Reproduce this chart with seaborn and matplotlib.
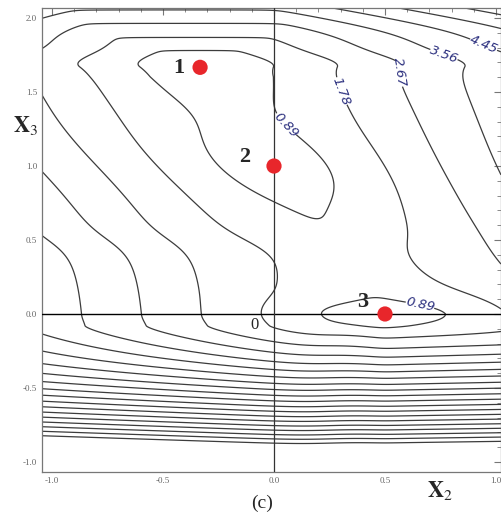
import numpy as np
import matplotlib
matplotlib.use("Agg")
import matplotlib.pyplot as plt
import seaborn as sns

sns.set_style("white")
plt.rcParams['font.family'] = ['Liberation Serif', 'DejaVu Serif']
plt.rcParams['mathtext.fontset'] = 'stix'
plt.rcParams['axes.unicode_minus'] = False

# equilibrium points
point_id = ["1", "2", "3"]
point_x2 = [-0.333, 0.0, 0.5]
point_x3 = [1.667, 1.0, 0.0]
point_tag_x2 = [-0.43, -0.13, 0.40]
point_tag_x3 = [1.66, 1.06, 0.08]

# contour levels (equal steps of 0.89)
level_step = 0.89
n_levels = 20

# labelled contours and where the labels sit
label_levels = [0.89, 1.78, 2.67, 3.56, 4.45, 0.89]
label_x2 = [0.08, 0.31, 0.545, 0.76, 0.95, 0.67]
label_x3 = [1.32, 1.51, 1.635, 1.73, 1.84, 0.15]

# energy landscape
# left edge of the valley: x2 = 0.50 minus three smooth steps in x3
left_x0 = 0.50
left_step_h = [0.14, 0.70, 0.60]
left_step_at = [0.50, 1.00, 1.82]
left_step_w = [0.06, 0.28, 0.07]
# right edge of the valley: the line 2*x2 + x3 = 1, opening up near the top
right_step_h = 0.55
right_step_at = 1.80
right_step_w = 0.06
slope_left = 3.3
slope_right = [3.2, 0.65, -0.9]
# wells along the valley floor
hump_level = 1.0
well_x3 = [0.0, 1.0, 1.67]
well_depth = [1.0, 0.95, 1.0]
well_up = [0.10, 0.35, 0.12]
well_down = [0.09, 0.35, 0.30]
valley_width = 0.38
# walls
floor_step = [0.42, 0.83, 0.13, 0.09]
top_step = [1.2, 0.12]
top_wall = [10.0, 1.82, 0.05]
bottom_wall = [23.5, 0.08, 1.5]


def sig(z):
    return 1.0 / (1.0 + np.exp(-z))


def ramp(z, e=0.04):
    return 0.5 * (z + np.sqrt(z ** 2 + e ** 2))


x2 = np.linspace(-1.045, 1.0225, 520)
x3 = np.linspace(-1.068, 2.068, 780)
X2, X3 = np.meshgrid(x2, x3)
below = np.minimum(X3, 0)

xl = left_x0 + 0 * X3
for h, a, w in zip(left_step_h, left_step_at, left_step_w):
    xl = xl - h * sig((X3 - a) / w)
xr = 0.5 - 0.5 * np.clip(X3, 0, None) + right_step_h * sig((X3 - right_step_at) / right_step_w)

k_l = slope_left * (0.45 + 0.55 * np.exp(-(below / 0.4) ** 2))
k_r = (slope_right[0] + slope_right[1] * sig((X3 - 0.15) / 0.06)
       + slope_right[2] * sig((X3 - 1.2) / 0.3))
k_r = k_r * (0.2 + 0.8 * np.exp(-(below / 0.09) ** 2))
F = k_l * ramp(xl - X2) + k_r * ramp(X2 - xr)

# hump with wells, felt only near the valley floor
Q = hump_level + 0 * X3
for y0, A, su, sd in zip(well_x3, well_depth, well_up, well_down):
    s = np.where(X3 >= y0, su, sd)
    Q = Q - A * np.exp(-((X3 - y0) / s) ** 2)
inside = (X3 > 0) & (X3 < well_x3[-1])
Q = np.where(inside, np.clip(Q, 0, None), 0)
mid = 0.5 * (xl + xr)
Q = Q * np.exp(-((X2 - mid) / valley_width) ** 2)

# step just below x3 = 0 (stronger and sharper on the right) and above the top well
right_part = sig((X2 - 0.25) / 0.08)
floor_amp = floor_step[0] + floor_step[1] * right_part
floor_w = floor_step[2] + (floor_step[3] - floor_step[2]) * right_part
P = np.where(X3 < 0, floor_amp * (1 - np.exp(-(X3 / floor_w) ** 2)), 0)
P = P + np.where(X3 > well_x3[-1],
                 top_step[0] * (1 - np.exp(-((X3 - well_x3[-1]) / top_step[1]) ** 2)), 0)

a, y0, w = top_wall
Wt = a * w * np.log1p(np.exp((X3 - y0) / w))
a, y0, p = bottom_wall
Wb = a * np.clip(-X3 - y0, 0, None) ** p

V = F + Q + P + Wt + Wb
levels = np.round(level_step * np.arange(1, n_levels + 1), 2)
labelled = sorted(set(label_levels))
plain = [lv for lv in levels if lv not in labelled]

fig = plt.figure(figsize=(5.02, 5.17), dpi=100)
ax = fig.add_axes([42 / 502, 45 / 517, 459 / 502, 464 / 517])

line_kw = dict(colors='#3c3c3c', linewidths=0.9)
ax.contour(X2, X3, V, levels=plain, **line_kw)
for lev in labelled:
    cs = ax.contour(X2, X3, V, levels=[lev], **line_kw)
    spots = [(lx, ly) for lv, lx, ly in zip(label_levels, label_x2, label_x3) if lv == lev]
    txts = ax.clabel(cs, manual=spots, inline=True, fmt='%.2f', fontsize=9.5,
                     colors='#2b2f7e', inline_spacing=3)
    for t in txts:
        t.set_fontstyle('italic')
        t.set_family('DejaVu Sans')

ax.axhline(0, color='black', lw=1.0, zorder=3)
ax.axvline(0, color='#333333', lw=0.9, zorder=3)

sns.scatterplot(x=point_x2, y=point_x3, ax=ax, color='#e8262b', s=120,
                edgecolor='none', zorder=5, legend=False)
for name, tx, ty in zip(point_id, point_tag_x2, point_tag_x3):
    ax.text(tx, ty, name, fontsize=16, fontweight='bold', ha='center', va='center', zorder=6)
ax.text(-0.086, -0.074, "0", fontsize=12, ha='center', va='center')

ax.set_xlim(-1.045, 1.0225)
ax.set_ylim(-1.068, 2.068)
ax.set_xticks(np.arange(-1.0, 1.01, 0.5))
ax.set_yticks(np.arange(-1.0, 2.01, 0.5))
ax.set_xticks(np.arange(-1.0, 1.01, 0.1), minor=True)
ax.set_yticks(np.arange(-1.0, 2.01, 0.1), minor=True)
ax.set_xticklabels([f"{v:.1f}" for v in np.arange(-1.0, 1.01, 0.5)])
ax.set_yticklabels([f"{v:.1f}" for v in np.arange(-1.0, 2.01, 0.5)])
ax.tick_params(which='both', direction='in', top=True, right=True, colors='#777777',
               labelsize=6.5, labelcolor='#666666')
ax.tick_params(which='major', length=5, width=0.8)
ax.tick_params(which='minor', length=3, width=0.6)
for sp in ax.spines.values():
    sp.set_color('#777777')
    sp.set_linewidth(0.9)

fig.text(0.05, 0.758, r'$\mathbf{X}_3$', fontsize=16, ha='center', va='center')
fig.text(0.876, 0.052, r'$\mathbf{X}_2$', fontsize=16, ha='center', va='center')
fig.text(0.522, 0.027, '(c)', fontsize=14, ha='center', va='center')

fig.savefig('out.png', dpi=100)
